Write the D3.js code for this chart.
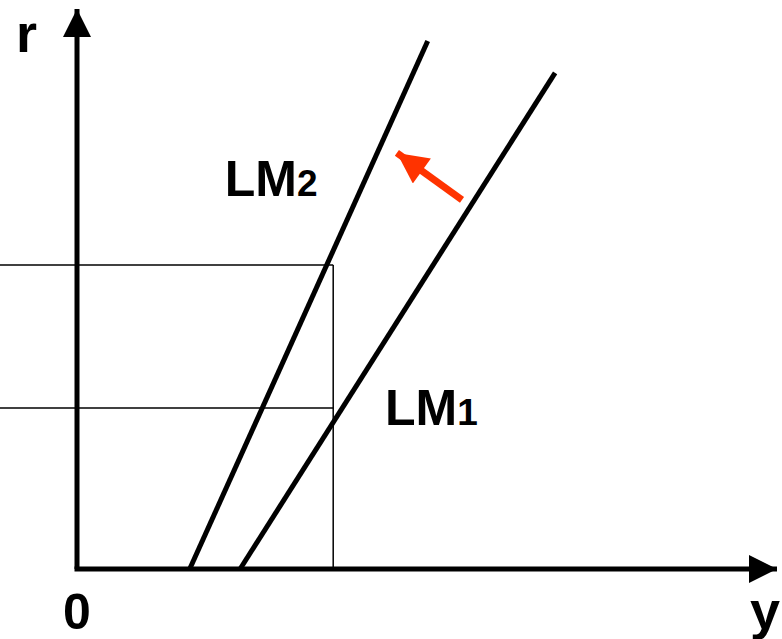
<!DOCTYPE html>
<html lang="en">
<meta charset="utf-8"/>
<head>
<style>
  body { margin: 0; background: #FFFFFF; }
  svg { display: block; }
  .lbl { font-family: "Liberation Sans", Arial, sans-serif; font-weight: bold; fill: #000; }
</style>
</head>
<body>
<svg id="chart" width="782" height="639"></svg>

<script src="https://d3js.org/d3.v7.min.js"></script>
<script>
// curves (y on the x axis, r on the vertical axis), in chart units
let lm1 = [{y: 23.3, r: 0}, {y: 68.3, r: 88.6}]
let lm2 = [{y: 16.1, r: 0}, {y: 50.1, r: 94.3}]
// guide lines: the two rates and the output level
let rLevels = [54.3, 28.75]
let yLevel = 36.6
// shift arrow, from LM1 toward LM2
let shift = [{y: 55, r: 65.9}, {y: 45.7, r: 74.3}]
// labels
let curveLabels = [{name: "LM", sub: "2", y: 21.1, r: 66.6}, {name: "LM", sub: "1", y: 44, r: 25.7}]
let axisNames = {x: "y", y: "r", origin: "0"}

let svg = d3.select("#chart")

let xScale = d3.scaleLinear().domain([0, 100]).range([77, 777])
let yScale = d3.scaleLinear().domain([0, 100]).range([569, 9])

// arrow heads
let defs = svg.append("defs")
defs.append("marker")
  .attr("id", "axisHead")
  .attr("viewBox", "0 0 10 10")
  .attr("refX", 10).attr("refY", 5)
  .attr("markerWidth", 7.6).attr("markerHeight", 5.6)
  .attr("markerUnits", "strokeWidth")
  .attr("orient", "auto")
  .append("path").attr("d", "M0,0 L10,5 L0,10 Z").attr("fill", "#000")

defs.append("marker")
  .attr("id", "redHead")
  .attr("viewBox", "0 0 10 10")
  .attr("refX", 10).attr("refY", 5)
  .attr("markerWidth", 5.6).attr("markerHeight", 4.4)
  .attr("markerUnits", "strokeWidth")
  .attr("orient", "auto")
  .append("path").attr("d", "M0,0 L10,5 L0,10 Z").attr("fill", "#FF3300")

// thin guide lines
rLevels.forEach(r => {
  svg.append("line")
    .attr("x1", 0).attr("x2", xScale(yLevel))
    .attr("y1", yScale(r)).attr("y2", yScale(r))
    .attr("stroke", "#000").attr("stroke-width", 1.5)
})
svg.append("line")
  .attr("x1", xScale(yLevel)).attr("x2", xScale(yLevel))
  .attr("y1", yScale(d3.max(rLevels))).attr("y2", yScale(0))
  .attr("stroke", "#000").attr("stroke-width", 1.5)

// LM curves
let line = d3.line().x(d => xScale(d.y)).y(d => yScale(d.r))
;[lm1, lm2].forEach(c => {
  svg.append("path")
    .attr("d", line(c))
    .attr("fill", "none")
    .attr("stroke", "#000")
    .attr("stroke-width", 5)
})

// axes
svg.append("line")
  .attr("x1", xScale(0)).attr("y1", yScale(0))
  .attr("x2", xScale(0)).attr("y2", yScale(100))
  .attr("stroke", "#000").attr("stroke-width", 5)
  .attr("marker-end", "url(#axisHead)")
svg.append("line")
  .attr("x1", xScale(0) - 2.5).attr("y1", yScale(0))
  .attr("x2", xScale(100)).attr("y2", yScale(0))
  .attr("stroke", "#000").attr("stroke-width", 5)
  .attr("marker-end", "url(#axisHead)")

// red shift arrow
svg.append("path")
  .attr("d", line(shift))
  .attr("stroke", "#FF3300")
  .attr("stroke-width", 7)
  .attr("marker-end", "url(#redHead)")

// labels
curveLabels.forEach(l => {
  let t = svg.append("text")
    .attr("class", "lbl")
    .attr("x", xScale(l.y)).attr("y", yScale(l.r))
    .style("font-size", "50px")
  t.append("tspan").text(l.name)
  t.append("tspan").style("font-size", "37px").text(l.sub)
})

svg.append("text").attr("class", "lbl")
  .attr("x", 16).attr("y", 52)
  .style("font-size", "54px")
  .text(axisNames.y)
svg.append("text").attr("class", "lbl")
  .attr("x", xScale(0)).attr("y", 629)
  .attr("text-anchor", "middle")
  .style("font-size", "50px")
  .text(axisNames.origin)
svg.append("text").attr("class", "lbl")
  .attr("x", 750).attr("y", 629)
  .style("font-size", "54px")
  .text(axisNames.x)
</script>
</body>
</html>
